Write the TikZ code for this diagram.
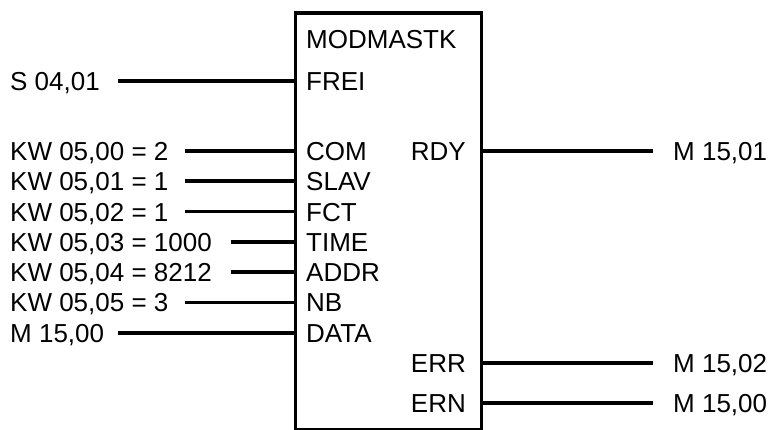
\documentclass[tikz,border=0pt]{standalone}
\usepackage{fontspec}
\setmainfont{Liberation Sans}
\begin{document}
\begin{tikzpicture}[x=1pt,y=-1pt,
  wire/.style={line width=3.8pt},
  lbl/.style={inner sep=0pt, font=\fontsize{26}{30}\selectfont}]
\useasboundingbox (0,0) rectangle (771,430);
\node[draw, line width=3.8pt, minimum width=186pt, minimum height=416pt,
      inner sep=0pt, anchor=north west] (blk) at (293.5,11.5) {};
\node[lbl, anchor=base west] (title) at (306,48.3) {MODMASTK};
\foreach \nm/\y/\src/\x in {FREI/81/{S 04,01}/118,
    COM/151/{KW 05,00 = 2}/185,
    SLAV/181.3/{KW 05,01 = 1}/185,
    FCT/211.6/{KW 05,02 = 1}/185,
    TIME/241.9/{KW 05,03 = 1000}/231,
    ADDR/272.2/{KW 05,04 = 8212}/231,
    NB/302.5/{KW 05,05 = 3}/185,
    DATA/332.8/{M 15,00}/118}{
  \node[lbl, anchor=base west] (p\nm) at (306,\y+9.5) {\nm};
  \node[lbl, anchor=base west] (s\nm) at (10,\y+9.5) {\src};
  \coordinate (c\nm) at (\x,\y);
  \draw[wire] (c\nm) -- (c\nm -| blk.west);
}
\foreach \nm/\y/\dst in {RDY/150.7/{M 15,01},
    ERR/362.7/{M 15,02},
    ERN/402.7/{M 15,00}}{
  \node[lbl, anchor=base east] (p\nm) at (466,\y+9.5) {\nm};
  \node[lbl, anchor=base west] (d\nm) at (673,\y+9.5) {\dst};
  \coordinate (o\nm) at (653,\y);
  \draw[wire] (o\nm -| blk.east) -- (o\nm);
}
\end{tikzpicture}
\end{document}
